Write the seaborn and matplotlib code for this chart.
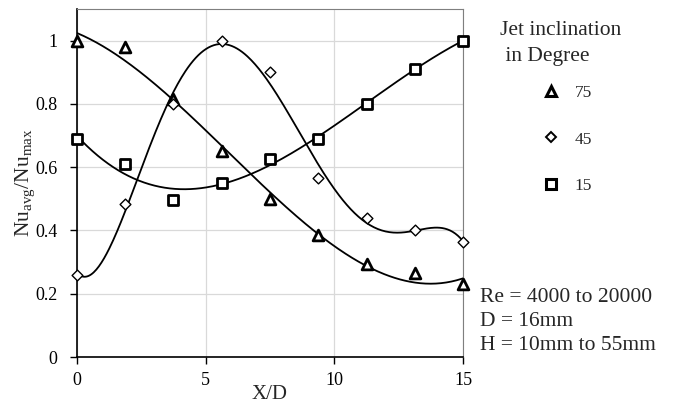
#!/usr/bin/env python

import numpy as np
import pandas as pd
import matplotlib
matplotlib.use('Agg')
import matplotlib.pyplot as plt
import seaborn as sns
from matplotlib.lines import Line2D

# X/D positions (same for every inclination)
x_d = [0, 1.875, 3.75, 5.625, 7.5, 9.375, 11.25, 13.125, 15]

# normalised average Nusselt number
nu_75 = [1.0, 0.98, 0.815, 0.65, 0.50, 0.385, 0.295, 0.265, 0.23]
nu_45 = [0.26, 0.485, 0.80, 1.0, 0.90, 0.565, 0.44, 0.40, 0.365]
nu_15 = [0.69, 0.61, 0.495, 0.55, 0.625, 0.69, 0.80, 0.91, 1.0]

angles = ['75', '45', '15']
fit_order = {'75': 3, '45': 5, '15': 3}
markers = {'75': '^', '45': 'D', '15': 's'}
marker_size = {'75': 60, '45': 30, '15': 60}
marker_lw = {'75': 2.0, '45': 1.0, '15': 2.0}

sns.set_style('white')
plt.rcParams['font.family'] = ['Liberation Serif', 'DejaVu Serif']
plt.rcParams['mathtext.fontset'] = 'custom'
plt.rcParams['mathtext.rm'] = 'Liberation Serif'
plt.rcParams['mathtext.it'] = 'Liberation Serif'

df = pd.DataFrame({
    'x': x_d * 3,
    'nu': nu_75 + nu_45 + nu_15,
    'angle': [a for a in angles for _ in x_d],
})

fig = plt.figure(figsize=(6.73, 4.04), dpi=100)
ax = fig.add_axes([0.1144, 0.1163, 0.5736, 0.8614])

# polynomial trend lines like the spreadsheet ones
xs = np.linspace(0, 15, 300)
for a in angles:
    sub = df[df.angle == a]
    coef = np.polyfit(sub.x, sub.nu, fit_order[a])
    sns.lineplot(x=xs, y=np.polyval(coef, xs), ax=ax, color='black', lw=1.3)

for a in angles:
    sub = df[df.angle == a]
    sns.scatterplot(data=sub, x='x', y='nu', ax=ax, marker=markers[a],
                    s=marker_size[a], facecolor='white', edgecolor='black',
                    linewidth=marker_lw[a], zorder=5, clip_on=False)

ax.set_xlim(0, 15)
ax.set_ylim(0, 1.1)
ax.set_xticks([0, 5, 10, 15])
ax.set_yticks([0, 0.2, 0.4, 0.6, 0.8, 1.0])
ax.set_yticklabels(['0', '0.2', '0.4', '0.6', '0.8', '1'])
ax.grid(True, color='#d9d9d9', lw=0.9)
ax.set_axisbelow(True)
for side in ['top', 'right']:
    ax.spines[side].set_color('#7f7f7f')
for side in ['left', 'bottom']:
    ax.spines[side].set_color('black')
    ax.spines[side].set_linewidth(1.2)
ax.tick_params(axis='both', length=5, width=1, direction='out', labelsize=13,
               colors='black', left=True, bottom=True)
ax.tick_params(axis='x', pad=6)
ax.tick_params(axis='y', pad=9)
ax.set_xlabel('X/D', fontsize=15, labelpad=-3)
ax.set_ylabel(r'Nu$_{\mathrm{avg}}$/Nu$_{\mathrm{max}}$', fontsize=15.5, labelpad=-1)

# legend title and entries placed separately (entries are indented)
fig.text(0.743, 0.892, 'Jet inclination\n in Degree', fontsize=15.5,
         linespacing=1.5, va='center', ha='left')

handles = [
    Line2D([], [], ls='none', marker='^', ms=7, mfc='white', mec='black', mew=2.2),
    Line2D([], [], ls='none', marker='D', ms=5, mfc='white', mec='black', mew=1.4),
    Line2D([], [], ls='none', marker='s', ms=7, mfc='white', mec='black', mew=2.2),
]
fig.legend(handles, angles, loc='upper left', bbox_to_anchor=(0.80, 0.79),
           frameon=False, fontsize=12.5, labelspacing=1.75, handlelength=1.5,
           handletextpad=0.6, borderpad=0, borderaxespad=0)

fig.text(0.713, 0.205, 'Re = 4000 to 20000\nD = 16mm\nH = 10mm to 55mm',
         fontsize=15.5, linespacing=1.36, va='center', ha='left')

fig.savefig('out.png', dpi=100)
